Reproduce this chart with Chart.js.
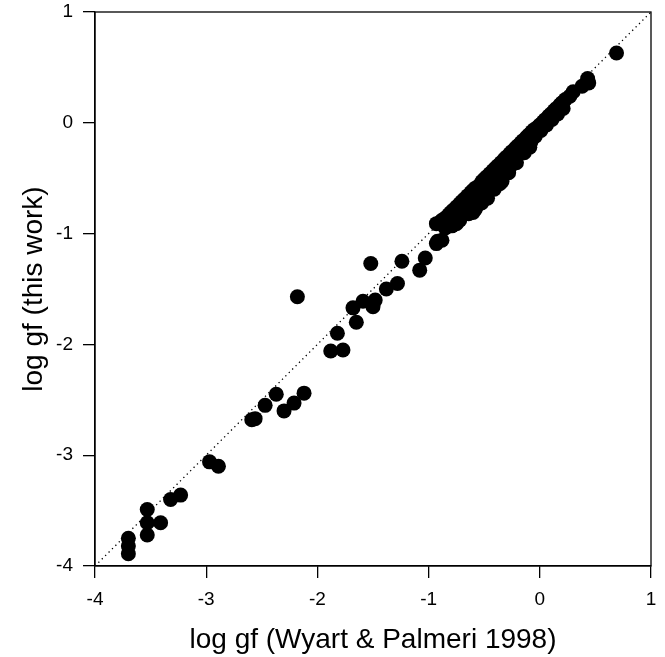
<!DOCTYPE html>
<html>
<head>
<meta charset="utf-8">
<script src="https://cdn.jsdelivr.net/npm/chart.js@4.4.0/dist/chart.umd.min.js"></script>
<style>
  html, body { margin: 0; padding: 0; background: #fff; }
  #wrap { width: 665px; height: 657px; }
</style>
</head>
<body>
<div id="wrap"><canvas id="graphique"></canvas></div>
<script>
// log gf (Wyart & Palmeri 1998)
const wyart = [
  -3.70, -3.70, -3.70, -3.53, -3.53, -3.53, -3.41, -3.32, -3.23, -2.97, -2.89,
  -2.59, -2.56, -2.47, -2.37, -2.30, -2.21, -2.12, -2.18,
  -1.88, -1.77, -1.82, -1.65, -1.68, -1.59, -1.50, -1.48, -1.52, -1.38, -1.28,
  -1.24, -1.08, -1.03, -0.93, -0.92, -0.88,
  -0.93, -0.90, -0.88, -0.85, -0.82, -0.80, -0.78, -0.75, -0.72, -0.70, -0.68,
  -0.65, -0.62, -0.60, -0.58, -0.55, -0.52, -0.50, -0.48, -0.45, -0.42, -0.40,
  -0.38, -0.35, -0.32, -0.30, -0.27, -0.25, -0.22, -0.20, -0.17, -0.15, -0.12,
  -0.10, -0.07, -0.05, -0.02, 0.00, 0.03, 0.05, 0.08, 0.10, 0.13, 0.15, 0.18,
  0.20, 0.23, 0.27, 0.30, 0.38, 0.43, 0.44, 0.69,
  -0.85, -0.80, -0.76, -0.71, -0.66, -0.62, -0.57, -0.53, -0.48, -0.44, -0.40,
  -0.35, -0.31, -0.26, -0.22, -0.18, -0.13, -0.08, -0.04, 0.01, 0.06, 0.11,
  0.16, 0.21,
  -0.79, -0.72, -0.64, -0.58, -0.52, -0.47, -0.41, -0.34, -0.28, -0.21, -0.14,
  -0.09,
  -0.85, -0.81, -0.75, -0.69, -0.60, -0.54, -0.36, -0.27
];
// log gf (this work)
const ceTravail = [
  -3.75, -3.82, -3.89, -3.49, -3.61, -3.72, -3.61, -3.40, -3.36, -3.06, -3.10,
  -2.68, -2.67, -2.55, -2.45, -2.60, -2.53, -2.44, -1.57,
  -2.06, -2.05, -1.90, -1.80, -1.67, -1.61, -1.66, -1.60, -1.27, -1.50, -1.45,
  -1.25, -1.33, -1.22, -1.09, -1.07, -1.06,
  -0.91, -0.90, -0.88, -0.86, -0.83, -0.81, -0.79, -0.76, -0.73, -0.71, -0.69,
  -0.66, -0.63, -0.61, -0.59, -0.57, -0.53, -0.51, -0.49, -0.46, -0.43, -0.41,
  -0.39, -0.36, -0.33, -0.31, -0.28, -0.26, -0.23, -0.21, -0.18, -0.16, -0.13,
  -0.11, -0.08, -0.06, -0.04, -0.02, 0.01, 0.03, 0.06, 0.08, 0.11, 0.13, 0.16,
  0.18, 0.21, 0.24, 0.28, 0.33, 0.40, 0.36, 0.63,
  -0.93, -0.89, -0.85, -0.80, -0.76, -0.71, -0.67, -0.62, -0.58, -0.53, -0.49,
  -0.44, -0.40, -0.35, -0.31, -0.27, -0.22, -0.17, -0.12, -0.07, -0.02, 0.03,
  0.08, 0.13,
  -0.93, -0.88, -0.82, -0.78, -0.72, -0.68, -0.60, -0.53, -0.45, -0.36, -0.27,
  -0.22,
  -0.95, -0.88, -0.91, -0.80, -0.81, -0.73, -0.55, -0.40
];
// graduations des deux axes
const graduations = [-4, -3, -2, -1, 0, 1];
// diagonale y = x
const diagonale = [-4, 1];

const police = "'Liberation Sans', Arial, Helvetica, sans-serif";

const points = wyart.map((x, i) => ({ x, y: ceTravail[i] }));
const ligne = diagonale.map(v => ({ x: v, y: v }));

/** Cadre autour de la zone de tracé (style R) */
const cadre = {
  id: 'cadre',
  afterDraw(chart) {
    const { ctx, chartArea: a } = chart;
    ctx.save();
    ctx.strokeStyle = '#000';
    ctx.lineWidth = 1.3;
    ctx.strokeRect(a.left, a.top, a.right - a.left, a.bottom - a.top);
    ctx.restore();
  }
};

const echelle = (titre, cote) => ({
  type: 'linear',
  position: cote,
  min: -4, max: 1,
  afterBuildTicks: s => { s.ticks = graduations.map(v => ({ value: v })); },
  afterFit: s => {
    /** On fige la taille des axes pour caler la zone de tracé */
    if (cote === 'left') {
      s.width = 95; s.paddingTop = 0; s.paddingBottom = 0;
    } else {
      s.height = 91; s.paddingLeft = 0; s.paddingRight = 0;
    }
  },
  grid: { drawOnChartArea: false, drawTicks: true, tickLength: 12, color: '#000', lineWidth: 1.3 },
  border: { display: true, color: '#000', width: 1.3 },
  ticks: {
    color: '#000', font: { family: police, size: 19 }, padding: 10,
    callback: v => String(v)
  },
  title: {
    display: true, text: titre, color: '#000',
    font: { family: police, size: 28 },
    padding: cote === 'left' ? { top: 17, bottom: 0 } : { top: 0, bottom: 0 }
  }
});

const ctx = document.getElementById('graphique').getContext('2d');
new Chart(ctx, {
  type: 'scatter',
  data: {
    datasets: [
      {
        data: ligne, showLine: true, borderColor: '#000', borderWidth: 1.3,
        borderDash: [1.3, 3.5], pointRadius: 0, order: 2
      },
      {
        data: points, backgroundColor: '#000', borderWidth: 0,
        pointRadius: 7.5, pointHoverRadius: 7.5, order: 1
      }
    ]
  },
  options: {
    responsive: true,
    maintainAspectRatio: false,
    animation: false,
    layout: { padding: { top: 12, right: 14, left: 0, bottom: 0 } },
    plugins: { legend: { display: false }, tooltip: { enabled: false } },
    scales: {
      x: echelle('log gf (Wyart & Palmeri 1998)', 'bottom'),
      y: echelle('log gf (this work)', 'left')
    }
  },
  plugins: [cadre]
});
</script>
</body>
</html>
